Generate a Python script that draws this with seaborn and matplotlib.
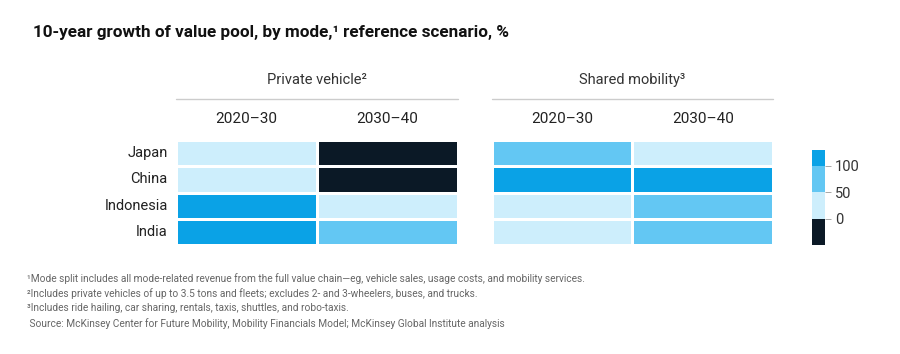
import pandas as pd
import seaborn as sns
import matplotlib.pyplot as plt
from matplotlib.colors import ListedColormap, BoundaryNorm

sns.set_style("white")
plt.rcParams["font.family"] = ["Roboto", "DejaVu Sans"]

countries = ["Japan", "China", "Indonesia", "India"]
periods = ["2020–30", "2030–40"]
private_2020 = [20, 20, 120, 120]
private_2030 = [-10, -10, 30, 70]
shared_2020 = [70, 130, 30, 30]
shared_2030 = [30, 130, 80, 80]

bins = [-50, 0, 50, 100, 130]
colors = ["#0b1926", "#cdeefc", "#63c7f3", "#0aa2e6"]
cmap = ListedColormap(colors)
norm = BoundaryNorm(bins, cmap.N)

df_private = pd.DataFrame({periods[0]: private_2020, periods[1]: private_2030}, index=countries)
df_shared = pd.DataFrame({periods[0]: shared_2020, periods[1]: shared_2030}, index=countries)

fig = plt.figure(figsize=(9, 3.54), dpi=100)
ax1 = fig.add_axes([176 / 900, 1 - 245 / 354, 282 / 900, 105 / 354])
ax2 = fig.add_axes([492 / 900, 1 - 245 / 354, 281 / 900, 105 / 354])
cax = fig.add_axes([812 / 900, 1 - 245 / 354, 13 / 900, 95 / 354])

sns.heatmap(df_private, ax=ax1, cmap=cmap, norm=norm, cbar=False,
            linewidths=0.8, linecolor="white")
sns.heatmap(df_shared, ax=ax2, cmap=cmap, norm=norm, cbar_ax=cax,
            linewidths=0.8, linecolor="white",
            cbar_kws={"ticks": [0, 50, 100], "spacing": "proportional"})

for ax in (ax1, ax2):
    ax.xaxis.tick_top()
    ax.tick_params(axis="x", length=0, pad=10, labelsize=11, labelcolor="#222222")
    ax.tick_params(axis="y", length=0, pad=6, labelsize=10.5, labelcolor="#222222", rotation=0)
ax2.set_yticklabels([])
ax1.set_ylabel("")
ax2.set_ylabel("")

cbar = ax2.collections[0].colorbar
cbar.outline.set_visible(False)
cbar.minorticks_off()
cax.tick_params(length=4, width=0.6, color="#999999", labelsize=10.5, labelcolor="#333333", pad=3)

fig.text(33 / 900, 1 - 33 / 354, "10-year growth of value pool, by mode,¹ reference scenario, %",
         fontsize=12.3, fontweight="bold", color="#111111", va="center")

fig.text(317 / 900, 1 - 80 / 354, "Private vehicle²", fontsize=10.5, color="#333333", ha="center", va="center")
fig.text(632 / 900, 1 - 80 / 354, "Shared mobility³", fontsize=10.5, color="#333333", ha="center", va="center")
fig.add_artist(plt.Line2D([176 / 900, 458 / 900], [1 - 99 / 354] * 2, color="#cccccc", lw=1))
fig.add_artist(plt.Line2D([492 / 900, 773 / 900], [1 - 99 / 354] * 2, color="#cccccc", lw=1))

notes = [
    "¹Mode split includes all mode-related revenue from the full value chain—eg, vehicle sales, usage costs, and mobility services.",
    "²Includes private vehicles of up to 3.5 tons and fleets; excludes 2- and 3-wheelers, buses, and trucks.",
    "³Includes ride hailing, car sharing, rentals, taxis, shuttles, and robo-taxis.",
    " Source: McKinsey Center for Future Mobility, Mobility Financials Model; McKinsey Global Institute analysis",
]
for i, note in enumerate(notes):
    fig.text(27 / 900, 1 - (279 + i * 14.7) / 354, note, fontsize=7.3, color="#666666", va="center")

plt.savefig("out.png", dpi=100, facecolor="white")
